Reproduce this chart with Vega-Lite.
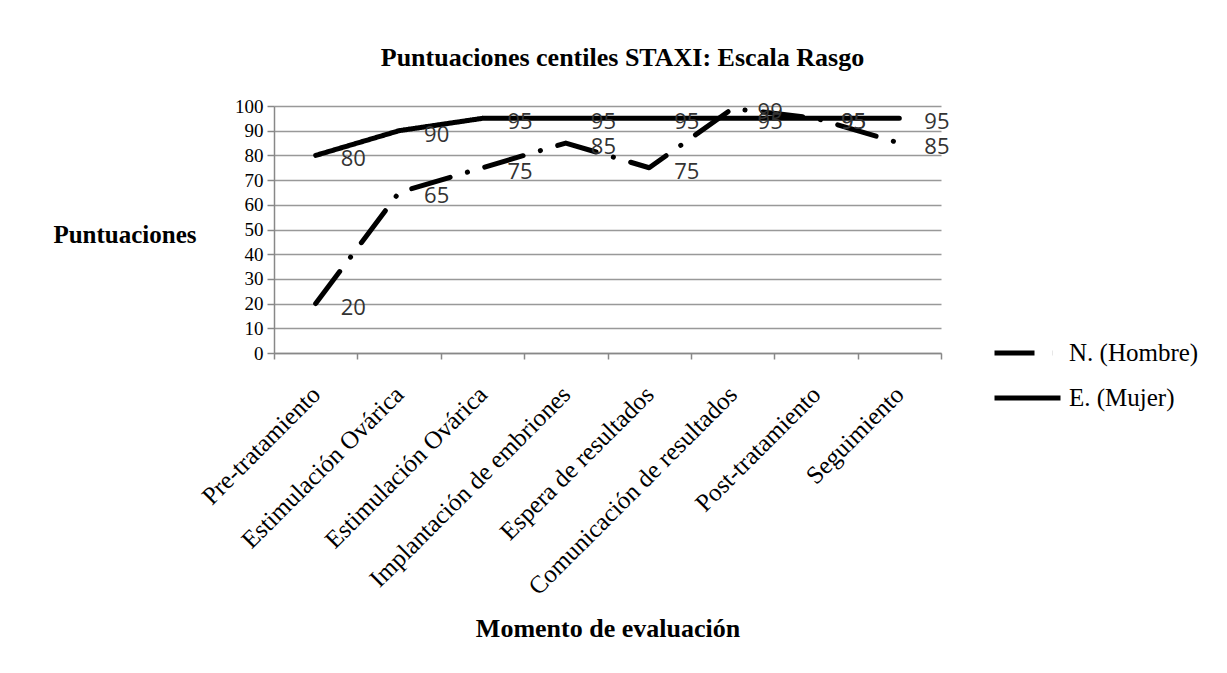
{
  "$schema": "https://vega.github.io/schema/vega-lite/v6.json",
  "width": 667,
  "height": 247,
  "padding": {"left": 52, "top": 45, "right": 5, "bottom": 5},
  "background": "white",
  "title": {
    "text": "Puntuaciones centiles STAXI: Escala Rasgo",
    "font": "Liberation Serif",
    "fontSize": 26,
    "fontWeight": "bold",
    "color": "black",
    "anchor": "middle",
    "dx": 15,
    "offset": 26
  },
  "data": {
    "values": [
      {"momento": "Pre-tratamiento", "orden": 1, "serie": "N. (Hombre)", "valor": 20},
      {"momento": "Estimulación Ovárica", "orden": 2, "serie": "N. (Hombre)", "valor": 65},
      {"momento": "Estimulación Ovárica\u200b", "orden": 3, "serie": "N. (Hombre)", "valor": 75},
      {"momento": "Implantación de embriones", "orden": 4, "serie": "N. (Hombre)", "valor": 85},
      {"momento": "Espera de resultados", "orden": 5, "serie": "N. (Hombre)", "valor": 75},
      {"momento": "Comunicación de resultados", "orden": 6, "serie": "N. (Hombre)", "valor": 99},
      {"momento": "Post-tratamiento", "orden": 7, "serie": "N. (Hombre)", "valor": 95},
      {"momento": "Seguimiento", "orden": 8, "serie": "N. (Hombre)", "valor": 85},
      {"momento": "Pre-tratamiento", "orden": 1, "serie": "E. (Mujer)", "valor": 80},
      {"momento": "Estimulación Ovárica", "orden": 2, "serie": "E. (Mujer)", "valor": 90},
      {"momento": "Estimulación Ovárica\u200b", "orden": 3, "serie": "E. (Mujer)", "valor": 95},
      {"momento": "Implantación de embriones", "orden": 4, "serie": "E. (Mujer)", "valor": 95},
      {"momento": "Espera de resultados", "orden": 5, "serie": "E. (Mujer)", "valor": 95},
      {"momento": "Comunicación de resultados", "orden": 6, "serie": "E. (Mujer)", "valor": 95},
      {"momento": "Post-tratamiento", "orden": 7, "serie": "E. (Mujer)", "valor": 95},
      {"momento": "Seguimiento", "orden": 8, "serie": "E. (Mujer)", "valor": 95}
    ]
  },
  "encoding": {
    "x": {
      "field": "momento",
      "type": "nominal",
      "sort": {"field": "orden", "op": "min"},
      "scale": {"paddingInner": 0, "paddingOuter": 0},
      "axis": {
        "title": "Momento de evaluación",
        "titleFont": "Liberation Serif",
        "titleFontSize": 26,
        "titleFontWeight": "bold",
        "titleColor": "black",
        "titleBaseline": "middle",
        "titleY": 275,
        "labelAngle": -45,
        "labelAlign": "right",
        "labelBaseline": "middle",
        "labelFont": "Liberation Serif",
        "labelFontSize": 25,
        "labelColor": "black",
        "labelPadding": 31,
        "labelLimit": 0,
        "labelOverlap": false,
        "tickBand": "extent",
        "tickColor": "#888888",
        "tickSize": 6,
        "tickWidth": 1.5,
        "domainColor": "#888888",
        "domainWidth": 1.5,
        "grid": false
      }
    },
    "y": {
      "field": "valor",
      "type": "quantitative",
      "scale": {"domain": [0, 100], "nice": false},
      "axis": {
        "values": [0, 10, 20, 30, 40, 50, 60, 70, 80, 90, 100],
        "title": "Puntuaciones",
        "titleFont": "Liberation Serif",
        "titleFontSize": 25,
        "titleFontWeight": "bold",
        "titleColor": "black",
        "titleAngle": 0,
        "titleAlign": "right",
        "titleBaseline": "middle",
        "titleX": -78,
        "titleY": 128,
        "labelFont": "Liberation Serif",
        "labelFontSize": 19,
        "labelColor": "black",
        "labelPadding": 4,
        "tickColor": "#888888",
        "tickSize": 7,
        "tickWidth": 1.5,
        "domainColor": "#888888",
        "domainWidth": 1.5,
        "grid": true,
        "gridColor": "#999999",
        "gridWidth": 1.5
      }
    }
  },
  "layer": [
    {
      "mark": {"type": "line", "strokeWidth": 5, "strokeCap": "round", "strokeJoin": "round"},
      "encoding": {
        "color": {
          "field": "serie",
          "type": "nominal",
          "scale": {"domain": ["N. (Hombre)", "E. (Mujer)"], "range": ["black", "black"]},
          "legend": {
            "title": null,
            "orient": "none",
            "legendX": 718,
            "legendY": 235,
            "symbolType": "stroke",
            "symbolSize": 4356,
            "symbolStrokeWidth": 5,
            "labelFont": "Liberation Serif",
            "labelFontSize": 25,
            "labelColor": "black",
            "labelOffset": 6,
            "labelLimit": 0,
            "clipHeight": 24,
            "rowPadding": 20
          }
        },
        "strokeDash": {
          "field": "serie",
          "type": "nominal",
          "scale": {"domain": ["N. (Hombre)", "E. (Mujer)"], "range": [[40, 18, 0.1, 18], [1, 0]]},
          "legend": {
            "title": null,
            "orient": "none",
            "legendX": 718,
            "legendY": 235,
            "symbolType": "stroke",
            "symbolSize": 4356,
            "symbolStrokeWidth": 5,
            "labelFont": "Liberation Serif",
            "labelFontSize": 25,
            "labelColor": "black",
            "labelOffset": 6,
            "labelLimit": 0,
            "clipHeight": 24,
            "rowPadding": 20
          }
        }
      }
    },
    {
      "mark": {"type": "text", "align": "left", "baseline": "middle", "dx": 25, "dy": 4, "font": "Open Sans", "fontSize": 22, "color": "#333333"},
      "encoding": {
        "text": {"field": "valor", "type": "quantitative"},
        "detail": {"field": "serie"}
      }
    }
  ],
  "config": {
    "view": {"stroke": null}
  }
}
